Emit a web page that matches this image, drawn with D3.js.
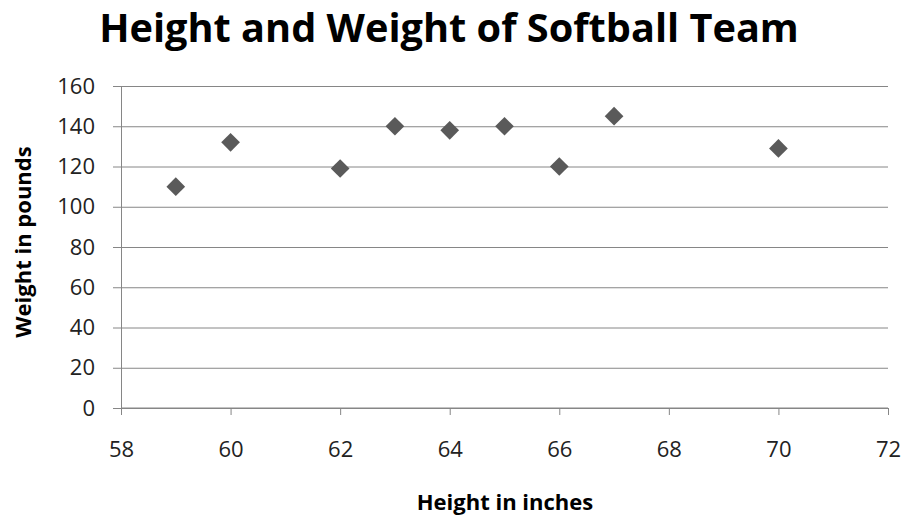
<!DOCTYPE html>
<html>
<head>
<meta charset="utf-8">
<script src="https://cdn.jsdelivr.net/npm/d3@7"></script>
<style>
	body { margin: 0; background: #fff; }
	svg { display: block; }
</style>
</head>
<body>
<svg id="chart" width="904" height="518"></svg>
<script>
// values
var heights = [59, 60, 62, 63, 64, 65, 66, 67, 70];
var weights = [110, 132, 119, 140, 138, 140, 120, 145, 129];
var xTicks = [58, 60, 62, 64, 66, 68, 70, 72];
var yTicks = [0, 20, 40, 60, 80, 100, 120, 140, 160];

var svg = d3.select("#chart"),
	margin = {top: 86, right: 16, bottom: 110, left: 121},
	width = 904 - margin.left - margin.right,
	height = 518 - margin.top - margin.bottom,
	g = svg.append("g").attr("transform", "translate(" + margin.left + "," + margin.top + ")");

var font = "'Open Sans', 'DejaVu Sans', sans-serif";

var x = d3.scaleLinear().domain([58, 72]).range([0, width]);
var y = d3.scaleLinear().domain([0, 160]).range([height, 0]);

// horizontal gridlines + y axis
var yAxis = g.append("g")
	.call(d3.axisLeft(y).tickValues(yTicks).tickSize(-width).tickPadding(26).tickFormat(d3.format("d")));
yAxis.select(".domain").attr("stroke", "#868686");
yAxis.selectAll(".tick line").attr("stroke", "#868686").attr("x1", -8);
yAxis.selectAll(".tick text")
	.attr("font-family", font).attr("font-size", 22).attr("fill", "#222");

var xAxis = g.append("g")
	.attr("transform", "translate(0," + height + ")")
	.call(d3.axisBottom(x).tickValues(xTicks).tickSize(7).tickPadding(26).tickFormat(d3.format("d")));
xAxis.select(".domain").attr("stroke", "#868686").attr("d", "M0,0H" + width);
xAxis.selectAll(".tick line").attr("stroke", "#868686");
xAxis.selectAll(".tick text")
	.attr("font-family", font).attr("font-size", 22).attr("fill", "#222");

// diamonds
var diamond = d3.symbol().type(d3.symbolSquare).size(175);
g.append("g")
	.selectAll("path")
	.data(heights)
	.enter().append("path")
		.attr("d", diamond)
		.attr("transform", function(d, i) { return "translate(" + x(d) + "," + y(weights[i]) + ") rotate(45)"; })
		.attr("fill", "#5a5a5a");

// titles
var title = svg.append("text")
	.attr("x", 449)
	.attr("y", 42)
	.attr("text-anchor", "middle")
	.attr("font-family", font)
	.attr("font-weight", "bold")
	.attr("font-size", 40)
	.attr("fill", "#000")
	.text("Height and Weight of Softball Team");
var tw = title.node().getComputedTextLength();
title.attr("font-size", Math.min(42, 40 * 700 / tw));

svg.append("text")
	.attr("x", 505)
	.attr("y", 510)
	.attr("text-anchor", "middle")
	.attr("font-family", font)
	.attr("font-weight", "bold")
	.attr("font-size", 22)
	.attr("fill", "#000")
	.text("Height in inches");

svg.append("text")
	.attr("transform", "translate(31,242) rotate(-90)")
	.attr("text-anchor", "middle")
	.attr("font-family", font)
	.attr("font-weight", "bold")
	.attr("font-size", 22)
	.attr("fill", "#000")
	.text("Weight in pounds");
</script>
</body>
</html>
